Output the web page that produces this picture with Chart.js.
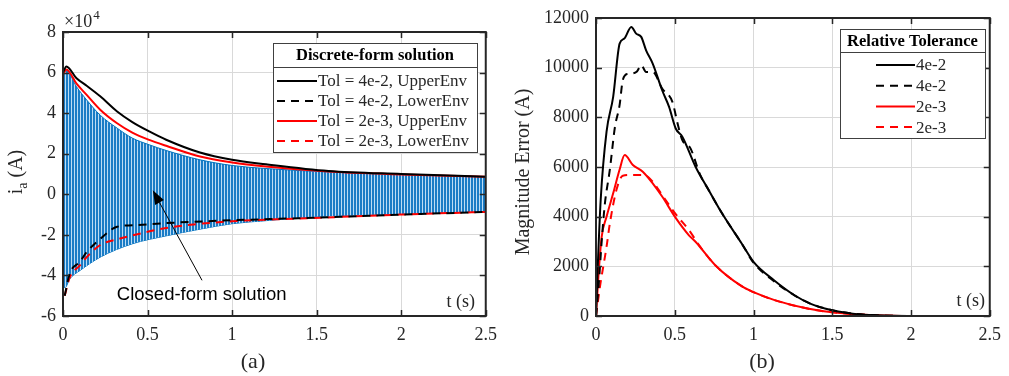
<!DOCTYPE html>
<html><head><meta charset="utf-8">
<script src="https://cdn.jsdelivr.net/npm/chart.js@4.4.1/dist/chart.umd.min.js"></script>
<style>
html,body{margin:0;padding:0;background:#fff;width:1009px;height:376px;overflow:hidden}
#wa{position:absolute;left:0;top:0;width:505px;height:376px}
#wb{position:absolute;left:505px;top:0;width:504px;height:376px}
</style></head><body>
<div id="wa"><canvas id="ca" width="505" height="376"></canvas></div>
<div id="wb"><canvas id="cb" width="504" height="376"></canvas></div>
<script>
// ---------- (a) values, current in units of 1e4 A ----------
const tA_closedUp = [0,0.02,0.08,0.14,0.22,0.32,0.41,0.51,0.61,0.81,1.0,1.2,1.57,2.0,2.5];
const iA_closedUp = [6.0,6.1,5.3,4.65,3.9,3.26,2.77,2.44,2.16,1.7,1.42,1.27,1.1,0.97,0.87];
const tA_closedLo = [0,0.012,0.04,0.1,0.22,0.41,0.61,0.81,1.0,1.2,1.5,2.0,2.5];
const iA_closedLo = [-4.6,-4.6,-4.17,-3.76,-3.1,-2.44,-2.05,-1.72,-1.45,-1.3,-1.1,-0.97,-0.87];
const tA_env = [0,0.02,0.08,0.14,0.22,0.32,0.41,0.51,0.61,0.81,1.0,1.2,1.57,2.0,2.5];
const iA_tol4Up = [6.0,6.3,5.72,5.35,4.83,4.08,3.56,3.1,2.69,2.06,1.7,1.48,1.15,1.0,0.87];
const iA_tol2Up = [5.9,6.15,5.45,4.9,4.17,3.5,3.04,2.68,2.39,1.86,1.57,1.37,1.12,0.98,0.87];
const tA_lo = [0.01,0.04,0.1,0.14,0.22,0.32,0.41,0.61,1.0,1.39,2.0,2.5];
const iA_tol4Lo = [-5.0,-3.9,-3.33,-2.85,-2.2,-1.6,-1.53,-1.42,-1.28,-1.18,-1.0,-0.87];
const iA_tol2Lo = [-5.0,-4.1,-3.5,-3.1,-2.5,-2.22,-2.03,-1.66,-1.33,-1.2,-1.0,-0.87];
const xTicksA = ['0','0.5','1','1.5','2','2.5'];
const yTicksA = ['-6','-4','-2','0','2','4','6','8'];

// ---------- (b) values, magnitude error in A ----------
const tB_tol4Up = [0,0.01,0.03,0.067,0.109,0.15,0.18,0.224,0.255,0.287,0.318,0.36,0.42,0.464,0.506,0.548,0.632,0.715,0.8,0.925,1.0,1.13,1.26,1.36,1.5,1.63,1.78,1.98,2.5];
const eB_tol4Up = [0,1800,4700,7420,8825,10970,11170,11640,11370,11240,10700,10165,9090,8420,7550,7220,6010,5075,4135,2920,2180,1440,835,500,230,95,27,0,0];
const tB_tol4Lo = [0,0.02,0.036,0.056,0.088,0.12,0.15,0.17,0.2,0.224,0.26,0.287,0.318,0.36,0.42,0.485,0.52,0.548,0.6,0.66,0.715,0.8,0.925,1.0,1.13,1.26,1.36,1.5,1.63,1.78,1.98,2.5];
const eB_tol4Lo = [0,1500,3000,4500,5900,7600,8500,9500,9750,9760,9850,10100,9830,9830,9160,8620,7700,7080,6750,5700,5075,4135,2920,2150,1400,830,500,230,95,27,0,0];
const tB_tol2Up = [0,0.015,0.036,0.067,0.109,0.15,0.182,0.234,0.297,0.36,0.42,0.506,0.59,0.632,0.757,0.925,1.0,1.134,1.343,1.5,1.78,2.0,2.5];
const eB_tol2Up = [0,1575,3190,4000,4940,5900,6480,6080,5810,5340,4810,3950,3250,2990,2047,1200,960,640,300,150,27,0,0];
const tB_tol2Lo = [0,0.025,0.067,0.088,0.13,0.17,0.22,0.297,0.32,0.36,0.42,0.506,0.59,0.66,0.757,0.925,1.0,1.134,1.343,1.5,1.78,2.0,2.5];
const eB_tol2Lo = [0,1170,2790,3730,5080,5650,5680,5680,5650,5410,4870,4100,3460,2800,2047,1200,960,640,300,150,27,0,0];
const xTicksB = ['0','0.5','1','1.5','2','2.5'];
const yTicksB = ['0','2000','4000','6000','8000','10000','12000'];

const labelsA = ['Tol = 4e-2, UpperEnv','Tol = 4e-2, LowerEnv','Tol = 2e-3, UpperEnv','Tol = 2e-3, LowerEnv'];
const labelsB = ['4e-2','4e-2','2e-3','2e-3'];

// ---------- helpers ----------
const SERIF = "'Liberation Serif','Times New Roman',serif";
const SANS = "'Liberation Sans',Arial,sans-serif";
const INK = '#262626';
Chart.defaults.font.family = SERIF;
Chart.defaults.color = INK;
const pts = (ts, vs) => ts.map((t, i) => ({x: t, y: vs[i]}));

function stripePattern() {
  const c = document.createElement('canvas');
  c.width = 3; c.height = 4;
  const g = c.getContext('2d');
  g.fillStyle = '#1a7cc6'; g.fillRect(0, 0, 3, 4);
  g.fillStyle = '#bcdcf4'; g.fillRect(2, 0, 1, 4);
  return g.createPattern(c, 'repeat');
}

const boxPlugin = {
  id: 'mbox',
  afterDatasetsDraw(chart) {
    const {ctx, chartArea: a, scales: {x, y}} = chart;
    ctx.save();
    ctx.strokeStyle = INK;
    ctx.lineWidth = 1.5;
    const L = 6;
    ctx.beginPath();
    x.ticks.forEach(t => {
      const p = Math.round(x.getPixelForValue(t.value)) + 0.5;
      ctx.moveTo(p, a.bottom); ctx.lineTo(p, a.bottom - L);
      ctx.moveTo(p, a.top); ctx.lineTo(p, a.top + L);
    });
    y.ticks.forEach(t => {
      const p = Math.round(y.getPixelForValue(t.value)) + 0.5;
      ctx.moveTo(a.left, p); ctx.lineTo(a.left + L, p);
      ctx.moveTo(a.right, p); ctx.lineTo(a.right - L, p);
    });
    ctx.stroke();
    ctx.lineWidth = 2;
    ctx.strokeRect(a.left, a.top, a.right - a.left, a.bottom - a.top);
    ctx.restore();
  }
};

function legendPlugin(id, L) {
  return {
    id,
    afterDraw(chart) {
      const ctx = chart.ctx;
      ctx.save();
      ctx.fillStyle = '#fff';
      ctx.fillRect(L.x, L.y, L.w, L.h);
      ctx.strokeStyle = '#404040'; ctx.lineWidth = 1;
      ctx.strokeRect(L.x + 0.5, L.y + 0.5, L.w, L.h);
      ctx.beginPath(); ctx.moveTo(L.x, L.sep + 0.5); ctx.lineTo(L.x + L.w, L.sep + 0.5); ctx.stroke();
      ctx.fillStyle = '#000';
      ctx.font = 'bold 16.5px ' + SERIF;
      ctx.textAlign = 'center'; ctx.textBaseline = 'middle';
      ctx.fillText(L.title, L.x + L.w / 2, L.titleY);
      const items = chart.data.datasets.filter(d => d.label);
      items.forEach((d, i) => {
        const yy = L.row0 + i * L.rowH;
        ctx.strokeStyle = d.borderColor; ctx.lineWidth = 2;
        ctx.setLineDash(d.borderDash || []);
        ctx.beginPath(); ctx.moveTo(L.l0, yy); ctx.lineTo(L.l1, yy); ctx.stroke();
        ctx.setLineDash([]);
        ctx.fillStyle = INK; ctx.font = '17px ' + SERIF;
        ctx.textAlign = 'left';
        ctx.fillText(d.label, L.l1 + 1, yy + 1);
      });
      ctx.restore();
    }
  };
}

const textA = {
  id: 'textA',
  afterDraw(chart) {
    const {ctx, scales: {x, y}} = chart;
    ctx.save();
    ctx.fillStyle = INK;
    ctx.font = '18px ' + SERIF; ctx.textAlign = 'left'; ctx.textBaseline = 'alphabetic';
    ctx.fillText('\u00d710', 64, 27);
    const w = ctx.measureText('\u00d710').width;
    ctx.font = '13px ' + SERIF; ctx.fillText('4', 64 + w + 1, 19);
    ctx.save();
    ctx.translate(22, 172); ctx.rotate(-Math.PI / 2);
    ctx.font = '20px ' + SERIF;
    const wi = ctx.measureText('i').width;
    ctx.font = '14px ' + SERIF;
    const wa = ctx.measureText('a').width;
    ctx.font = '20px ' + SERIF;
    const wr = ctx.measureText(' (A)').width;
    let sx = -(wi + wa + wr) / 2;
    ctx.fillText('i', sx, 0);
    ctx.font = '14px ' + SERIF; ctx.fillText('a', sx + wi, 5);
    ctx.font = '20px ' + SERIF; ctx.fillText(' (A)', sx + wi + wa, 0);
    ctx.restore();
    ctx.font = '18px ' + SERIF; ctx.textAlign = 'right';
    ctx.fillText('t (s)', 475, 307);
    ctx.font = '22px ' + SERIF; ctx.textAlign = 'center';
    ctx.fillText('(a)', 253, 368);
    const tipX = x.getPixelForValue(0.531), tipY = y.getPixelForValue(0.2);
    const tailX = x.getPixelForValue(0.822), tailY = y.getPixelForValue(-4.24);
    ctx.strokeStyle = '#000'; ctx.fillStyle = '#000'; ctx.lineWidth = 1;
    const ang = Math.atan2(tipY - tailY, tipX - tailX);
    const hl = 14, hw = 5;
    const bx = tipX - hl * Math.cos(ang), by = tipY - hl * Math.sin(ang);
    ctx.beginPath(); ctx.moveTo(tailX, tailY); ctx.lineTo(bx, by); ctx.stroke();
    ctx.beginPath();
    ctx.moveTo(tipX, tipY);
    ctx.lineTo(bx + hw * Math.sin(ang), by - hw * Math.cos(ang));
    ctx.lineTo(bx - hw * Math.sin(ang), by + hw * Math.cos(ang));
    ctx.closePath(); ctx.fill();
    ctx.font = '18.5px ' + SANS; ctx.textAlign = 'center'; ctx.textBaseline = 'middle';
    ctx.fillText('Closed-form solution', x.getPixelForValue(0.82), y.getPixelForValue(-4.97));
    ctx.restore();
  }
};

const textB = {
  id: 'textB',
  afterDraw(chart) {
    const ctx = chart.ctx;
    ctx.save();
    ctx.fillStyle = INK;
    ctx.save();
    ctx.translate(19, 172); ctx.rotate(-Math.PI / 2);
    ctx.font = '20px ' + SERIF; ctx.textAlign = 'center'; ctx.textBaseline = 'middle';
    ctx.fillText('Magnitude Error (A)', 0, 0);
    ctx.restore();
    ctx.font = '18px ' + SERIF; ctx.textAlign = 'right'; ctx.textBaseline = 'alphabetic';
    ctx.fillText('t (s)', 480, 306);
    ctx.font = '22px ' + SERIF; ctx.textAlign = 'center';
    ctx.fillText('(b)', 257, 368);
    ctx.restore();
  }
};

function scaleOpts(min, max, step, labels, vals, fixW, fixH, isX) {
  return {
    type: 'linear', min, max,
    ticks: {
      stepSize: step, padding: isX ? 8 : 7, color: INK,
      font: {size: 18, family: SERIF},
      maxRotation: 0, autoSkip: false,
      callback: (v) => { const i = vals.findIndex(q => Math.abs(q - v) < 1e-9); return i >= 0 ? labels[i] : ''; }
    },
    grid: {color: '#d9d9d9', lineWidth: 1, drawTicks: false},
    border: {display: false},
    afterFit: (s) => { if (isX) s.height = fixH; else s.width = fixW; }
  };
}

const lineDS = (label, data, color, dash, order) => ({
  label, data, borderColor: color, borderWidth: 2, borderDash: dash,
  pointRadius: 0, fill: false, order,
  cubicInterpolationMode: 'monotone'
});

new Chart(document.getElementById('ca'), {
  type: 'line',
  data: {
    datasets: [
      lineDS(labelsA[0], pts(tA_env, iA_tol4Up), '#000000', [], 1),
      lineDS(labelsA[1], pts(tA_lo, iA_tol4Lo), '#000000', [8, 6], 2),
      lineDS(labelsA[2], pts(tA_env, iA_tol2Up), '#ff0000', [], 3),
      lineDS(labelsA[3], pts(tA_lo, iA_tol2Lo), '#ff0000', [8, 6], 4),
      {data: pts(tA_closedUp, iA_closedUp), borderColor: '#0072BD', borderWidth: 1, pointRadius: 0,
       backgroundColor: stripePattern(), fill: '+1', order: 10, cubicInterpolationMode: 'monotone'},
      {data: pts(tA_closedLo, iA_closedLo), borderColor: '#0072BD', borderWidth: 1, pointRadius: 0,
       fill: false, order: 11, cubicInterpolationMode: 'monotone'}
    ]
  },
  options: {
    responsive: false, animation: false, events: [],
    layout: {padding: {left: 0, right: 17, top: 32, bottom: 0}},
    plugins: {legend: {display: false}, tooltip: {enabled: false}},
    scales: {
      x: scaleOpts(0, 2.5, 0.5, xTicksA, [0, 0.5, 1, 1.5, 2, 2.5], 0, 60, true),
      y: scaleOpts(-6, 8, 2, yTicksA, [-6, -4, -2, 0, 2, 4, 6, 8], 63, 0, false)
    }
  },
  plugins: [boxPlugin, textA, legendPlugin('legA', {x: 273, y: 43, w: 204, h: 109, sep: 67, titleY: 56,
    title: 'Discrete-form solution', row0: 81, rowH: 20, l0: 277, l1: 317})]
});

new Chart(document.getElementById('cb'), {
  type: 'line',
  data: {
    datasets: [
      lineDS(labelsB[0], pts(tB_tol4Up, eB_tol4Up), '#000000', [], 2),
      lineDS(labelsB[1], pts(tB_tol4Lo, eB_tol4Lo), '#000000', [8, 6], 1),
      lineDS(labelsB[2], pts(tB_tol2Up, eB_tol2Up), '#ff0000', [], 3),
      lineDS(labelsB[3], pts(tB_tol2Lo, eB_tol2Lo), '#ff0000', [8, 6], 4)
    ]
  },
  options: {
    responsive: false, animation: false, events: [],
    layout: {padding: {left: 0, right: 13, top: 18, bottom: 0}},
    plugins: {legend: {display: false}, tooltip: {enabled: false}},
    scales: {
      x: scaleOpts(0, 2.5, 0.5, xTicksB, [0, 0.5, 1, 1.5, 2, 2.5], 0, 60, true),
      y: scaleOpts(0, 12000, 2000, yTicksB, [0, 2000, 4000, 6000, 8000, 10000, 12000], 91, 0, false)
    }
  },
  plugins: [boxPlugin, textB, legendPlugin('legB', {x: 335, y: 29, w: 145, h: 109, sep: 52, titleY: 42,
    title: 'Relative Tolerance', row0: 65, rowH: 20.7, l0: 371, l1: 410})]
});
</script>
</body></html>
